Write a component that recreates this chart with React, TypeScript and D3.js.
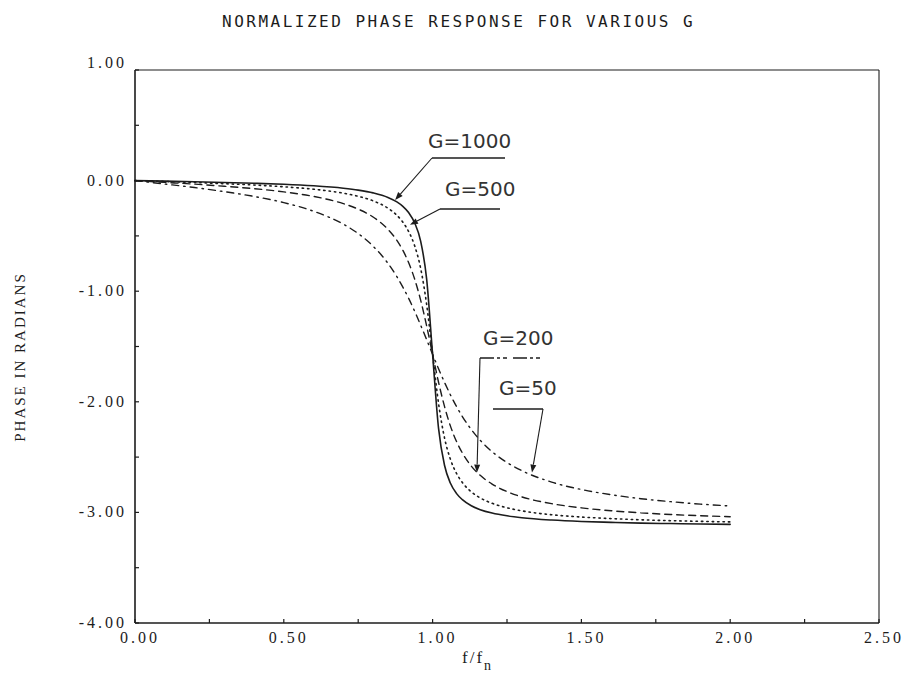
import React from 'react';
import * as d3 from 'd3';

// normalized frequency f/fn
const FREQ = [0, 0.1, 0.2, 0.3, 0.4, 0.5, 0.6, 0.7, 0.75, 0.8, 0.85, 0.88, 0.9, 0.92, 0.94, 0.96, 0.98,
  1.0, 1.02, 1.04, 1.06, 1.08, 1.1, 1.13, 1.16, 1.2, 1.25, 1.3, 1.4, 1.5, 1.6, 1.7, 1.8, 1.9, 2.0];

// phase in radians
const G1000 = [0, -0.005, -0.010, -0.017, -0.024, -0.033, -0.047, -0.069, -0.086, -0.111, -0.152, -0.193, -0.233,
  -0.291, -0.384, -0.549, -0.891, -1.571, -2.241, -2.574, -2.737, -2.828, -2.885, -2.940, -2.975, -3.006, -3.031,
  -3.048, -3.069, -3.082, -3.090, -3.097, -3.101, -3.105, -3.108];
const G500 = [0, -0.008, -0.017, -0.028, -0.040, -0.056, -0.078, -0.114, -0.142, -0.183, -0.250, -0.314, -0.376,
  -0.463, -0.592, -0.795, -1.120, -1.571, -2.014, -2.326, -2.521, -2.646, -2.730, -2.814, -2.869, -2.918, -2.958,
  -2.986, -3.021, -3.042, -3.056, -3.067, -3.075, -3.081, -3.086];
const G200 = [0, -0.016, -0.032, -0.051, -0.073, -0.102, -0.143, -0.208, -0.258, -0.329, -0.441, -0.541, -0.630,
  -0.745, -0.893, -1.083, -1.314, -1.571, -1.823, -2.042, -2.220, -2.357, -2.463, -2.581, -2.665, -2.744, -2.812,
  -2.860, -2.921, -2.959, -2.985, -3.004, -3.019, -3.030, -3.039];
const G50 = [0, -0.031, -0.063, -0.100, -0.143, -0.199, -0.277, -0.394, -0.479, -0.593, -0.748, -0.869, -0.963,
  -1.067, -1.183, -1.308, -1.438, -1.571, -1.701, -1.824, -1.938, -2.041, -2.133, -2.251, -2.348, -2.451, -2.549,
  -2.623, -2.726, -2.793, -2.840, -2.876, -2.903, -2.925, -2.942];

const X_TICKS = [0, 0.5, 1.0, 1.5, 2.0, 2.5];
const Y_TICKS = [1, 0, -1, -2, -3, -4];

const SERIES = [
  { name: 'G=1000', values: G1000, dash: 'none', width: 1.6 },
  { name: 'G=500', values: G500, dash: '1.4 4', width: 1.6 },
  { name: 'G=200', values: G200, dash: '7 5', width: 1.4 },
  { name: 'G=50', values: G50, dash: '7 5 1.5 5', width: 1.4 },
];

// label text / underline / arrow tip (tip in data units)
const NOTES = [
  { label: 'G=1000', tx: 428, ty: 148, ux1: 432, ux2: 505, uy: 158, from: 'left', tip: [0.874, -0.176], dash: 'none' },
  { label: 'G=500', tx: 445, ty: 196, ux1: 440, ux2: 500, uy: 209, from: 'left', tip: [0.924, -0.40], dash: 'none' },
  { label: 'G=200', tx: 483, ty: 345, ux1: 480, ux2: 542, uy: 358, from: 'left', tip: [1.149, -2.64], dash: '14 3 3 3 4 6' },
  { label: 'G=50', tx: 499, ty: 395, ux1: 493, ux2: 543, uy: 409, from: 'right', tip: [1.334, -2.64], dash: 'none' },
];

const W = 906;
const H = 682;
const M = { left: 135, right: 879, top: 70, bottom: 623 };
const INK = '#1c1c1c';

export default function App() {
  const x = d3.scaleLinear().domain([0, 2.5]).range([M.left, M.right]);
  const y = d3.scaleLinear().domain([-4, 1]).range([M.bottom, M.top]);

  const line = d3.line<number>()
    .x((_, i) => x(FREQ[i]))
    .y((d) => y(d))
    .curve(d3.curveMonotoneX);

  const xMinor = d3.range(0, 2.5001, 0.25);
  const yMinor = d3.range(-4, 1.0001, 0.5);

  return (
    <svg width={W} height={H} style={{ position: 'absolute', left: 0, top: 0, background: '#fff' }}>
      <rect width={W} height={H} fill="#fff" />
      <text x={222} y={27} fontFamily="'DejaVu Sans Mono', monospace" fontSize={16} letterSpacing={2.5} fill={INK}>
        NORMALIZED PHASE RESPONSE FOR VARIOUS G
      </text>

      {/* frame */}
      <line x1={M.left} x2={M.right} y1={M.top} y2={M.top} stroke={INK} strokeWidth={1.2} />
      <line x1={M.right} x2={M.right} y1={M.top} y2={M.bottom} stroke={INK} strokeWidth={1.1} />
      <line x1={M.left} x2={M.left} y1={M.top} y2={M.bottom} stroke={INK} strokeWidth={1.6} />
      <line x1={M.left} x2={M.right} y1={M.bottom} y2={M.bottom} stroke={INK} strokeWidth={1.6} />

      {xMinor.map((t) => (
        <line key={'xt' + t} x1={x(t)} x2={x(t)} y1={M.bottom} y2={M.bottom - 4} stroke={INK} strokeWidth={1.2} />
      ))}
      {yMinor.map((t) => (
        <line key={'yt' + t} x1={M.left} x2={M.left + 4} y1={y(t)} y2={y(t)} stroke={INK} strokeWidth={1.2} />
      ))}

      {X_TICKS.map((t) => (
        <text key={'xl' + t} x={x(t) + 5} y={643} textAnchor="middle" fontFamily="'Liberation Serif', serif"
          fontSize={16} letterSpacing={3} fill={INK}>{t.toFixed(2)}</text>
      ))}
      {Y_TICKS.map((t) => (
        <text key={'yl' + t} x={127} y={y(t) + (t === 1 ? -2 : 5)} textAnchor="end" fontFamily="'Liberation Serif', serif"
          fontSize={16} letterSpacing={3} fill={INK}>{t.toFixed(2)}</text>
      ))}

      <text transform="translate(25,357) rotate(-90)" textAnchor="middle" fontFamily="'Liberation Serif', serif"
        fontSize={15} letterSpacing={2} fill={INK}>PHASE IN RADIANS</text>

      <text x={462} y={663} fontFamily="'Liberation Serif', serif" fontSize={17} fill={INK} letterSpacing={2}>
        f/f<tspan fontSize={14} dy={7}>n</tspan>
      </text>

      {SERIES.map((s) => (
        <path key={s.name} d={line(s.values) || ''} fill="none" stroke={INK} strokeWidth={s.width}
          strokeDasharray={s.dash} strokeLinecap="round" />
      ))}

      {NOTES.map((n) => {
        const tx = x(n.tip[0]);
        const ty = y(n.tip[1]);
        const sx = n.from === 'left' ? n.ux1 : n.ux2;
        const sy = n.uy;
        const ang = Math.atan2(ty - sy, tx - sx);
        const L = 8;
        const Wd = 3;
        const bx = tx - L * Math.cos(ang);
        const by = ty - L * Math.sin(ang);
        const head = `M${tx},${ty} L${bx + Wd * Math.sin(ang)},${by - Wd * Math.cos(ang)} L${bx - Wd * Math.sin(ang)},${by + Wd * Math.cos(ang)} Z`;
        return (
          <g key={n.label}>
            <text x={n.tx} y={n.ty} fontFamily="'DejaVu Sans', sans-serif" fontSize={20} fill="#333">{n.label}</text>
            <line x1={n.ux1} x2={n.ux2} y1={n.uy} y2={n.uy} stroke={INK} strokeWidth={1.4} strokeDasharray={n.dash} />
            <line x1={sx} y1={sy} x2={bx} y2={by} stroke={INK} strokeWidth={1.1} />
            <path d={head} fill={INK} />
          </g>
        );
      })}
    </svg>
  );
}
